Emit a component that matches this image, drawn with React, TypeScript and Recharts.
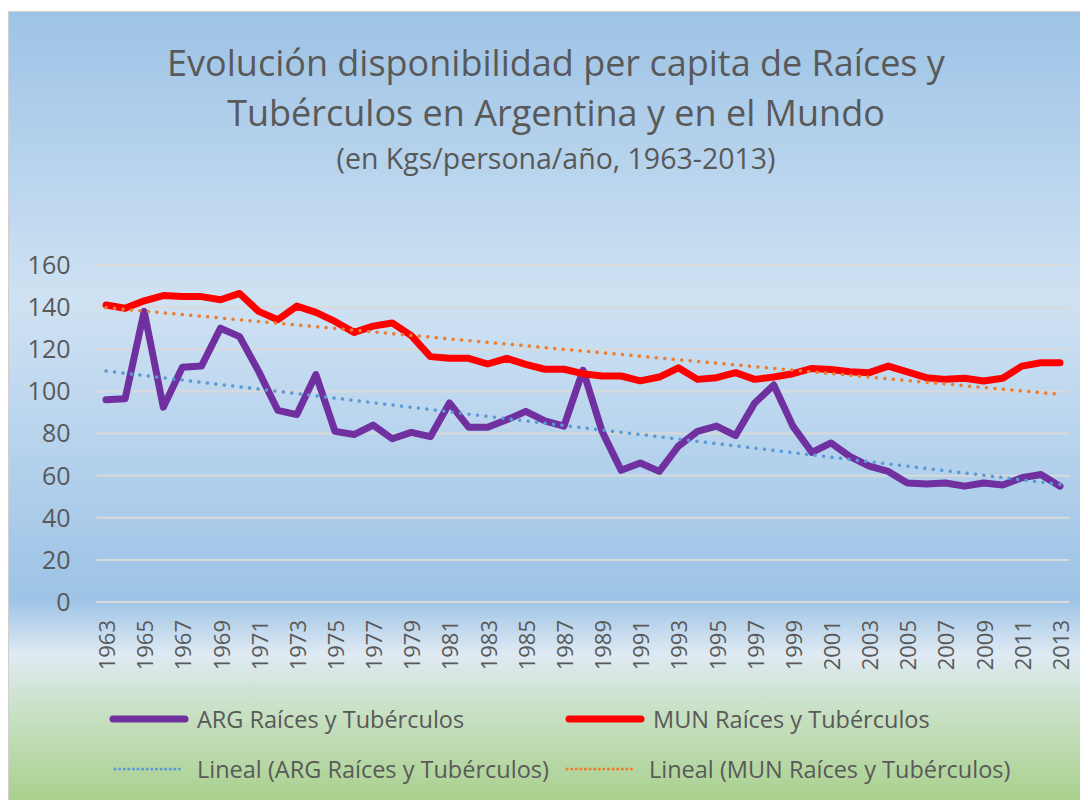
import React from 'react'
import { LineChart, Line, XAxis, YAxis, CartesianGrid } from 'recharts'

const years = [
  1963, 1964, 1965, 1966, 1967, 1968, 1969, 1970, 1971, 1972,
  1973, 1974, 1975, 1976, 1977, 1978, 1979, 1980, 1981, 1982,
  1983, 1984, 1985, 1986, 1987, 1988, 1989, 1990, 1991, 1992,
  1993, 1994, 1995, 1996, 1997, 1998, 1999, 2000, 2001, 2002,
  2003, 2004, 2005, 2006, 2007, 2008, 2009, 2010, 2011, 2012, 2013,
]

// Argentina, kg/persona/año
const argValues = [
  96, 96.5, 138, 92.5, 111.5, 112, 130, 126, 109.5, 91,
  89, 108, 81, 79.5, 84, 77.5, 80.5, 78.5, 94.5, 83,
  83, 86.5, 90.5, 86, 83.5, 110, 81, 62.5, 66, 62,
  74, 81, 83.5, 79, 94.5, 103, 83.5, 71, 75.5, 69,
  64.5, 62, 56.5, 56, 56.5, 55, 56.5, 55.5, 59, 60.5, 55,
]

// Mundo, kg/persona/año
const munValues = [
  141, 139.5, 143, 145.5, 145, 145, 143.5, 146.5, 138, 134,
  140.5, 137.5, 133.2, 128, 131, 132.5, 126.5, 116.5, 115.7, 115.7,
  113, 115.7, 112.8, 110.5, 110.5, 108.4, 107.3, 107.3, 105, 106.8,
  111.2, 105.7, 106.5, 108.9, 105.7, 106.8, 108.4, 110.9, 110.4, 109.3,
  108.9, 112, 109.3, 106.5, 105.7, 106.2, 104.9, 106.2, 112, 113.6, 113.6,
]

const yTicks = [0, 20, 40, 60, 80, 100, 120, 140, 160]
const xTicks = years.filter((y) => (y - 1963) % 2 === 0)

const FONT = "'Open Sans', sans-serif"
const TEXT = '#595959'

// least squares fit, same as Excel's "Lineal" trendline
function linearTrend(values: number[]): number[] {
  const n = values.length
  const mx = (n - 1) / 2
  const my = values.reduce((a, b) => a + b, 0) / n
  let num = 0
  let den = 0
  values.forEach((v, i) => {
    num += (i - mx) * (v - my)
    den += (i - mx) * (i - mx)
  })
  const slope = num / den
  return values.map((_, i) => my + slope * (i - mx))
}

const argTrend = linearTrend(argValues)
const munTrend = linearTrend(munValues)

const data = years.map((year, i) => ({
  year,
  arg: argValues[i],
  mun: munValues[i],
  argTrend: argTrend[i],
  munTrend: munTrend[i],
}))

const YearTick = ({ x, y, payload }: any) => (
  <text
    x={x}
    y={y}
    transform={`rotate(-90, ${x}, ${y})`}
    textAnchor="end"
    dominantBaseline="central"
    fill={TEXT}
    fontSize={22}
    fontFamily={FONT}
  >
    {payload.value}
  </text>
)

function LegendItem({
  left,
  top,
  color,
  dotted,
  label,
}: {
  left: number
  top: number
  color: string
  dotted?: boolean
  label: string
}) {
  return (
    <div
      style={{
        position: 'absolute',
        left,
        top: top - 18,
        height: 36,
        display: 'flex',
        alignItems: 'center',
        whiteSpace: 'nowrap',
      }}
    >
      <svg width={dotted ? 72 : 80} height={12} style={{ marginRight: dotted ? 12 : 8 }}>
        {dotted ? (
          <line
            x1={2}
            y1={6}
            x2={70}
            y2={6}
            stroke={color}
            strokeWidth={3}
            strokeDasharray="0.1 4.5"
            strokeLinecap="round"
          />
        ) : (
          <line x1={4} y1={6} x2={76} y2={6} stroke={color} strokeWidth={7} strokeLinecap="round" />
        )}
      </svg>
      <span style={{ fontFamily: FONT, fontSize: 23.5, color: TEXT }}>{label}</span>
    </div>
  )
}

export default function App() {
  return (
    <div
      style={{
        position: 'relative',
        width: 1076,
        height: 789,
        marginTop: 3,
        borderLeft: '1px solid #d0d0d0',
        borderTop: '1px solid #d0d0d0',
        boxSizing: 'border-box',
        background:
          'linear-gradient(to bottom, #9dc3e6 0%, #cfe2f3 36.5%, #9dc3e6 74.5%, #dfeaf3 81.5%, #c8e0c4 89%, #a9d18e 100%)',
        overflow: 'hidden',
      }}
    >
      <div
        style={{
          position: 'absolute',
          left: 9,
          width: 1076,
          top: 0,
          textAlign: 'center',
          fontFamily: FONT,
          color: TEXT,
        }}
      >
        <div style={{ position: 'absolute', left: 0, right: 0, top: 28, lineHeight: '46px', fontSize: 36 }}>
          Evolución disponibilidad per capita de Raíces y
        </div>
        <div style={{ position: 'absolute', left: 0, right: 0, top: 78, lineHeight: '46px', fontSize: 36 }}>
          Tubérculos en Argentina y en el Mundo
        </div>
        <div style={{ position: 'absolute', left: 0, right: 0, top: 128, lineHeight: '36px', fontSize: 28.5 }}>
          (en Kgs/persona/año, 1963-2013)
        </div>
      </div>

      <div style={{ position: 'absolute', left: 0, top: 0 }}>
        <LineChart
          width={1076}
          height={789}
          data={data}
          margin={{ top: 253, right: 15.5, bottom: 119, left: 27.5 }}
        >
          <CartesianGrid vertical={false} stroke="#d9d9d9" strokeWidth={2} />
          <XAxis
            dataKey="year"
            type="number"
            domain={[1962.5, 2013.5]}
            ticks={xTicks}
            interval={0}
            height={80}
            axisLine={false}
            tickLine={false}
            tickSize={0}
            tickMargin={18}
            tick={<YearTick />}
          />
          <YAxis
            domain={[0, 160]}
            ticks={yTicks}
            width={60}
            axisLine={false}
            tickLine={false}
            tickSize={0}
            tickMargin={26}
            tick={{ fill: TEXT, fontSize: 25, fontFamily: FONT }}
          />
          <Line
            dataKey="arg"
            stroke="#7030a0"
            strokeWidth={7}
            strokeLinejoin="round"
            strokeLinecap="round"
            dot={false}
            isAnimationActive={false}
          />
          <Line
            dataKey="mun"
            stroke="#ff0000"
            strokeWidth={7}
            strokeLinejoin="round"
            strokeLinecap="round"
            dot={false}
            isAnimationActive={false}
          />
          <Line
            dataKey="argTrend"
            stroke="#5b9bd5"
            strokeWidth={3.5}
            strokeDasharray="0.1 8.4"
            strokeLinecap="round"
            dot={false}
            isAnimationActive={false}
          />
          <Line
            dataKey="munTrend"
            stroke="#ed7d31"
            strokeWidth={3.5}
            strokeDasharray="0.1 8.4"
            strokeLinecap="round"
            dot={false}
            isAnimationActive={false}
          />
        </LineChart>
      </div>

      <LegendItem left={100} top={707} color="#7030a0" label="ARG Raíces y Tubérculos" />
      <LegendItem left={556} top={707} color="#ff0000" label="MUN Raíces y Tubérculos" />
      <LegendItem left={104} top={757} color="#5b9bd5" dotted label="Lineal (ARG Raíces y Tubérculos)" />
      <LegendItem left={556} top={757} color="#ed7d31" dotted label="Lineal (MUN Raíces y Tubérculos)" />
    </div>
  )
}
